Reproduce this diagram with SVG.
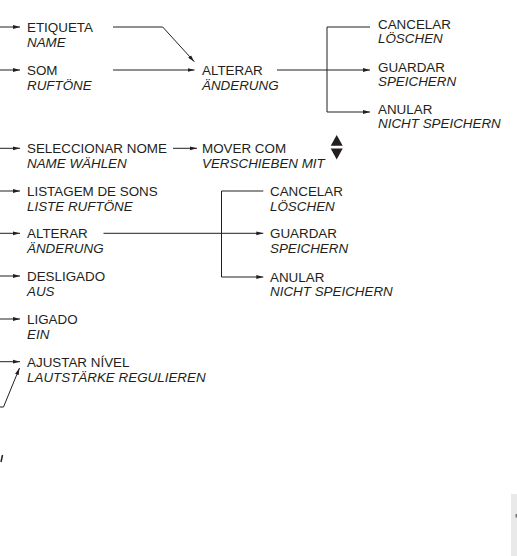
<svg xmlns="http://www.w3.org/2000/svg" width="517" height="556" viewBox="0 0 517 556">
<style>
text{font-family:"Liberation Sans",Arial,Helvetica,sans-serif;font-size:13.4px;fill:#231f20}
.de{font-style:italic}
.c{fill:none;stroke:#231f20;stroke-width:1}
</style>
<defs>
<marker id="ah" markerUnits="userSpaceOnUse" markerWidth="8" markerHeight="6" refX="7" refY="2.5" orient="auto">
<path d="M0,0.6 L7,2.5 L0,4.4 z" fill="#231f20"/>
</marker>
</defs>
<rect width="517" height="556" fill="#ffffff"/>
<g id="connectors">
<path class="c" marker-end="url(#ah)" d="M0,27 H20"/>
<path class="c" marker-end="url(#ah)" d="M0,70 H20"/>
<path class="c" marker-end="url(#ah)" d="M0,148.3 H20"/>
<path class="c" marker-end="url(#ah)" d="M0,191 H20"/>
<path class="c" marker-end="url(#ah)" d="M0,233.3 H20"/>
<path class="c" marker-end="url(#ah)" d="M0,276 H20"/>
<path class="c" marker-end="url(#ah)" d="M0,319 H20"/>
<path class="c" marker-end="url(#ah)" d="M0,361.7 H20"/>
<path class="c" marker-end="url(#ah)" d="M0,407 H3.5 L19.5,368"/>
<path class="c" marker-end="url(#ah)" d="M113,27 H162.7 L194.3,61.7"/>
<path class="c" marker-end="url(#ah)" d="M113,70 H194.5"/>
<path class="c" marker-end="url(#ah)" d="M277,70 H370"/>
<path class="c" marker-end="url(#ah)" d="M370,27 H327 V112 H370"/>
<path class="c" marker-end="url(#ah)" d="M173,148.3 H197"/>
<path class="c" marker-end="url(#ah)" d="M103.5,233.3 H263.3"/>
<path class="c" marker-end="url(#ah)" d="M263.3,191 H221.5 V277 H263.3"/>
</g>
<g id="n-etiqueta"><text x="27" y="32.3">ETIQUETA</text><text class="de" x="27" y="47">NAME</text></g>
<g id="n-som"><text x="27" y="75">SOM</text><text class="de" x="27" y="90">RUFTÖNE</text></g>
<g id="n-alterar1"><text x="202" y="74.5">ALTERAR</text><text class="de" x="202" y="89.5">ÄNDERUNG</text></g>
<g id="n-cancelar1"><text x="378" y="28.5">CANCELAR</text><text class="de" x="378" y="43">LÖSCHEN</text></g>
<g id="n-guardar1"><text x="378" y="71.5">GUARDAR</text><text class="de" x="378" y="86">SPEICHERN</text></g>
<g id="n-anular1"><text x="378" y="113.5">ANULAR</text><text class="de" x="378" y="128.3">NICHT SPEICHERN</text></g>
<g id="n-seleccionar"><text x="27" y="153.3">SELECCIONAR NOME</text><text class="de" x="27" y="168">NAME WÄHLEN</text></g>
<g id="n-mover"><text x="202" y="153.3">MOVER COM</text><text class="de" x="202" y="168">VERSCHIEBEN MIT</text>
<path d="M336.7,135 L342.7,145.7 L330.7,145.7 z" fill="#231f20"/>
<path d="M330.7,148.5 L342.7,148.5 L336.7,159.5 z" fill="#231f20"/></g>
<g id="n-listagem"><text x="27" y="196">LISTAGEM DE SONS</text><text class="de" x="27" y="211">LISTE RUFTÖNE</text></g>
<g id="n-alterar2"><text x="27" y="238.3">ALTERAR</text><text class="de" x="27" y="253.3">ÄNDERUNG</text></g>
<g id="n-cancelar2"><text x="270" y="195.6">CANCELAR</text><text class="de" x="270" y="210.5">LÖSCHEN</text></g>
<g id="n-guardar2"><text x="270" y="237.8">GUARDAR</text><text class="de" x="270" y="252.7">SPEICHERN</text></g>
<g id="n-anular2"><text x="270" y="281.5">ANULAR</text><text class="de" x="270" y="296.3">NICHT SPEICHERN</text></g>
<g id="n-desligado"><text x="27" y="281">DESLIGADO</text><text class="de" x="27" y="296">AUS</text></g>
<g id="n-ligado"><text x="27" y="324">LIGADO</text><text class="de" x="27" y="338.7">EIN</text></g>
<g id="n-ajustar"><text x="27" y="366.7">AJUSTAR NÍVEL</text><text class="de" x="27" y="381.5">LAUTSTÄRKE REGULIEREN</text></g>
<path d="M1,462 L2.5,455" stroke="#231f20" stroke-width="1.5" fill="none"/>
<rect x="511" y="494" width="6" height="62" fill="#e9e9e9"/>
<rect x="515.5" y="514" width="1.5" height="3.5" fill="#777777"/>
</svg>
